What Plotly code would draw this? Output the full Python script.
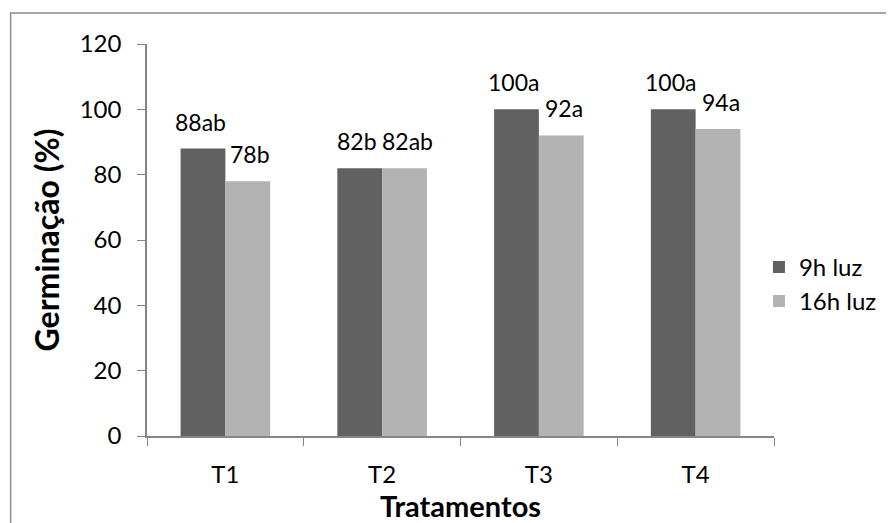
import plotly.graph_objects as go

categories = ["T1", "T2", "T3", "T4"]
series_names = ["9h luz", "16h luz"]
values_9h = [88, 82, 100, 100]
values_16h = [78, 82, 92, 94]
labels_9h = ["88ab", "82b", "100a", "100a"]
labels_16h = ["78b", "82ab", "92a", "94a"]
y_ticks = [0, 20, 40, 60, 80, 100, 120]

colors = ["#616161", "#b3b3b3"]
FONT = "Lato"
FS = 24

fig = go.Figure()
all_vals = [values_9h, values_16h]
all_labels = [labels_9h, labels_16h]
for name, vals, col in zip(series_names, all_vals, colors):
    fig.add_trace(go.Bar(x=categories, y=vals, name=name, marker=dict(color=col, line=dict(width=0))))

annotations = []
bar_px = 45
nudge = 2.5
for i, (vals, labs) in enumerate(zip(all_vals, all_labels)):
    for c, v, t in zip(categories, vals, labs):
        annotations.append(dict(x=c, y=v, xref="x", yref="y", text=t, showarrow=False,
                                xshift=(i - 0.5) * bar_px + (2 * i - 1) * nudge,
                                yanchor="bottom", yshift=11,
                                font=dict(family=FONT, size=23, color="black")))

# page body has an 8px margin, so the figure is 8px smaller on each axis
fig.update_layout(
    width=886, height=515,
    margin=dict(l=139, r=117, t=36, b=82),
    paper_bgcolor="white", plot_bgcolor="white",
    barmode="group", bargap=0.4286, bargroupgap=0,
    font=dict(family=FONT, size=FS, color="black"),
    annotations=annotations,
    legend=dict(x=0.976, xanchor="left", y=0.387, yanchor="middle",
                font=dict(family=FONT, size=FS), bgcolor="rgba(0,0,0,0)"),
    shapes=[dict(type="rect", xref="paper", yref="paper", x0=-0.2175, x1=1.6, y0=-0.6, y1=1.0793,
                 line=dict(color="#8c8c8c", width=1.5), layer="below")],
)
fig.update_xaxes(type="category", range=[-0.5, 3.5], showline=True, linecolor="#868686", linewidth=1.5,
                 ticks="outside", tickson="boundaries", ticklen=8, tickcolor="#868686",
                 showgrid=False, zeroline=False, ticklabelstandoff=16,
                 title=dict(text="<b>Tratamentos</b>", font=dict(family=FONT, size=29), standoff=3))
fig.update_yaxes(range=[0, 120], tickvals=y_ticks, showline=True, linecolor="#868686", linewidth=1.5,
                 ticks="outside", ticklen=8, tickcolor="#868686", showgrid=False, zeroline=False,
                 ticklabelstandoff=11,
                 title=dict(text="<b>Germinação (%)</b>", font=dict(family=FONT, size=32), standoff=10))

fig.write_html("out.html")
